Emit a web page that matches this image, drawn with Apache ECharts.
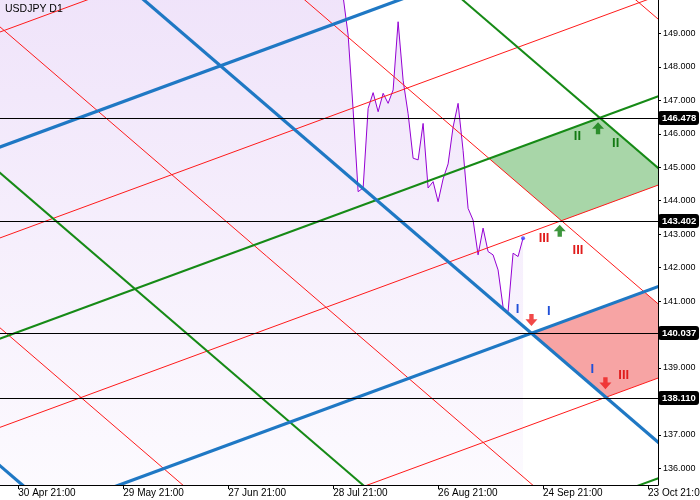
<!DOCTYPE html>
<html><head><meta charset="utf-8">
<script src="https://cdn.jsdelivr.net/npm/echarts@6/dist/echarts.min.js"></script>
<style>html,body{margin:0;padding:0;background:#fff}#c{width:700px;height:500px}</style>
</head><body><div id="c"></div>
<script>
// ---------- data ----------
const chartTitle = 'USDJPY D1';
const xTickBars = [0, 21, 42, 63, 84, 105, 126];
const xTickLabels = ['30 Apr 21:00', '29 May 21:00', '27 Jun 21:00', '28 Jul 21:00', '26 Aug 21:00', '24 Sep 21:00', '23 Oct 21:00'];
const yTicks = [136, 137, 138, 139, 140, 141, 142, 143, 144, 145, 146, 147, 148, 149];
const firstBar = -4;   // bar index of first close
const closes = [
  155.6, 158.3, 156.4, 157.8,
  155.0, 153.0, 153.0, 153.9, 154.6, 155.5, 155.5, 155.8, 156.2, 156.4,
  154.9, 155.4, 155.7, 156.3, 156.2, 156.8, 157.0, 157.0, 156.9, 157.2,
  157.6, 156.8, 157.3, 156.1, 154.8, 156.1, 155.6, 156.8, 157.0, 157.1,
  156.7, 157.0, 157.4, 157.7, 157.9, 158.1, 158.9, 159.8, 159.7, 159.7,
  160.8, 160.8, 160.9, 161.5, 161.5, 161.7, 161.2, 160.8, 160.8, 161.3,
  161.7, 158.8, 157.9, 158.1, 158.4, 156.2, 157.4, 157.5, 157.0, 155.6,
  153.9, 153.9, 153.8, 153.9, 152.7, 150.1, 148.95, 146.71,
  144.27, 144.38, 146.76, 147.23, 146.66, 147.21, 146.91, 147.31, 149.35, 147.6,
  146.6, 145.27, 145.22, 146.31, 144.38, 144.57, 143.97, 144.65, 145.1, 146.2,
  146.91, 145.5, 143.77, 143.42, 142.38, 143.18, 142.48, 142.38, 141.93, 140.82,
  140.68, 142.43, 142.33, 142.88
];
const hLevels = [146.478, 143.402, 140.037, 138.110];
// grid lines: value at bar 0, constant slope per bar
const upSlope = 0.055;
const downSlope = -0.1285;
const upLevels   = [149.245, 145.808, 143.088, 140.079, 137.425, 134.390, 131.656, 128.66];
const upKinds    = ['red', 'blue', 'red', 'green', 'red', 'blue', 'red', 'green'];
const downLevels = [135.605, 139.729, 144.362, 148.725, 153.231, 157.367, 161.428, 165.88];
const downKinds  = ['blue', 'red', 'green', 'red', 'blue', 'red', 'green', 'red'];
// zones: pairs of up-line indices and down-line indices bounding them
const zoneUp   = [[3, 4], [5, 6]];
const zoneDown = [[5, 6], [4, 5]];
const zoneKinds = ['green', 'red'];
// text marks
const markBars   = [111.88, 119.54, 105.2, 112.0, 99.88, 106.14, 114.88, 121.14];
const markValues = [145.915, 145.717, 142.878, 142.528, 140.756, 140.684, 138.942, 138.772];
const markTexts  = ['II', 'II', 'III', 'III', 'I', 'I', 'I', 'III'];
// arrows
const arrowBars   = [116.0, 108.34, 102.68, 117.48];
const arrowValues = [146.166, 143.105, 140.436, 138.545];
const arrowDirs   = ['up', 'up', 'down', 'down'];

// ---------- styles ----------
const FONT = '"Liberation Sans", Arial, sans-serif';
const TITLE_FONT = '"Liberation Sans Narrow", "Liberation Sans", sans-serif';
const lineStyleOf = {
  red:   { stroke: '#ff1a1a', lineWidth: 1 },
  green: { stroke: '#168a16', lineWidth: 2 },
  blue:  { stroke: '#1f78c4', lineWidth: 3.2 }
};
const zoneFill = { green: '#a8d6a8', red: '#f7a4a4' };
const markColor = { 'I': '#1f4fd8', 'II': '#137a13', 'III': '#e01c1c' };
const arrowColor = { up: '#0c7c0c', down: '#ee1c1c' };
const arrowPath = {
  up: 'path://M5.5,0 L11,6 L7.5,6 L7.5,11 L3.5,11 L3.5,6 L0,6 Z',
  down: 'path://M3.5,0 L7.5,0 L7.5,5 L11,5 L5.5,11 L0,5 L3.5,5 Z'
};

// ---------- build ----------
const priceData = closes.map((v, i) => [firstBar + i, v]);
const lines = [];
['red', 'green', 'blue'].forEach(kind => {
  upKinds.forEach((k, i) => { if (k === kind) lines.push({ v0: upLevels[i], s: upSlope, k }); });
  downKinds.forEach((k, i) => { if (k === kind) lines.push({ v0: downLevels[i], s: downSlope, k }); });
});

function cross(ui, di) {
  const a = upLevels[ui], d = downLevels[di];
  const b = (d - a) / (upSlope - downSlope);
  return [b, a + upSlope * b];
}
const zones = zoneUp.map((u, z) => {
  const dn = zoneDown[z];
  return [cross(u[0], dn[0]), cross(u[0], dn[1]), cross(u[1], dn[1]), cross(u[1], dn[0])];
});

const chart = echarts.init(document.getElementById('c'), null, { renderer: 'canvas' });
chart.setOption({
  animation: false,
  backgroundColor: '#ffffff',
  title: {
    text: chartTitle, left: 5, top: 4, padding: 0,
    textStyle: { fontSize: 10.5, fontWeight: 'normal', color: '#000', fontFamily: TITLE_FONT }
  },
  grid: { left: 0, right: 42, top: 0, bottom: 15, outerBoundsMode: 'none', containLabel: false },
  xAxis: {
    type: 'value', min: -3.66, max: 128,
    axisLine: { onZero: false, lineStyle: { color: '#000', width: 1 } },
    axisTick: { show: true, length: 4, customValues: xTickBars, lineStyle: { color: '#000' } },
    axisLabel: {
      customValues: xTickBars, margin: 3, align: 'left',
      color: '#000', fontSize: 10, fontFamily: FONT,
      formatter: v => xTickLabels[xTickBars.indexOf(Math.round(v))] || ''
    },
    splitLine: { show: false }
  },
  yAxis: {
    type: 'value', position: 'right', min: 135.5, max: 150,
    axisLine: { show: true, onZero: false, lineStyle: { color: '#000', width: 1 } },
    axisTick: { show: true, length: 3, customValues: yTicks, lineStyle: { color: '#000' } },
    axisLabel: {
      customValues: yTicks, margin: 5, color: '#000', fontSize: 9, fontFamily: FONT,
      formatter: v => v.toFixed(3)
    },
    splitLine: { show: false }
  },
  series: [
    {
      type: 'line', data: priceData, z: 1, clip: true, showSymbol: false, smooth: false,
      lineStyle: { color: '#9400d3', width: 1 },
      areaStyle: {
        origin: 'start',
        color: { type: 'linear', x: 0, y: 0, x2: 0, y2: 485, global: true,
          colorStops: [{ offset: 0, color: '#e9d8f8' }, { offset: 1, color: '#fbf8fe' }] }
      }
    },
    {
      type: 'custom', z: 2, clip: true,
      data: zones.map(z => [z[0][0], z[0][1]]),
      renderItem: (params, api) => {
        const pts = zones[params.dataIndex].map(p => api.coord(p));
        return { type: 'polygon', shape: { points: pts }, style: { fill: zoneFill[zoneKinds[params.dataIndex]] } };
      }
    },
    {
      type: 'custom', z: 3, clip: true,
      data: lines.map(l => [0, l.v0]),
      renderItem: (params, api) => {
        const l = lines[params.dataIndex];
        const p1 = api.coord([-20, l.v0 + l.s * -20]);
        const p2 = api.coord([150, l.v0 + l.s * 150]);
        const st = lineStyleOf[l.k];
        return { type: 'line', shape: { x1: p1[0], y1: p1[1], x2: p2[0], y2: p2[1] },
          style: { stroke: st.stroke, lineWidth: st.lineWidth } };
      }
    },
    {
      type: 'custom', z: 4, clip: false,
      data: hLevels.map(v => [0, v]),
      renderItem: (params, api) => {
        const cs = params.coordSys;
        const v = hLevels[params.dataIndex];
        const y = Math.round(api.coord([0, v])[1]) + 0.5;
        const xr = cs.x + cs.width;
        return { type: 'group', children: [
          { type: 'line', shape: { x1: cs.x, y1: y, x2: xr, y2: y }, style: { stroke: '#000', lineWidth: 1 } },
          { type: 'rect', shape: { x: xr, y: y - 7.5, width: 41, height: 14, r: 3 }, style: { fill: '#000' } },
          { type: 'text', x: xr + 4, y: y, style: { text: v.toFixed(3), fill: '#fff',
              font: 'bold 9.5px ' + FONT, align: 'left', verticalAlign: 'middle' } }
        ] };
      }
    },
    {
      type: 'custom', z: 5, clip: false,
      data: markBars.map((b, i) => [b, markValues[i]]),
      renderItem: (params, api) => {
        const p = api.coord([markBars[params.dataIndex], markValues[params.dataIndex]]);
        const t = markTexts[params.dataIndex];
        return { type: 'text', x: p[0], y: p[1], style: { text: t, fill: markColor[t],
          font: 'bold 13px ' + FONT, align: 'center', verticalAlign: 'middle' } };
      }
    },
    {
      type: 'scatter', z: 5, clip: false,
      data: arrowBars.map((b, i) => ({ value: [b, arrowValues[i]], symbol: arrowPath[arrowDirs[i]],
        itemStyle: { color: arrowColor[arrowDirs[i]] } })),
      symbolSize: [12, 12], silent: true
    },
    {
      type: 'scatter', z: 6,
      data: [priceData[priceData.length - 1]],
      symbol: 'circle', symbolSize: 4, itemStyle: { color: '#3b3bff' }
    }
  ]
});
</script></body></html>
